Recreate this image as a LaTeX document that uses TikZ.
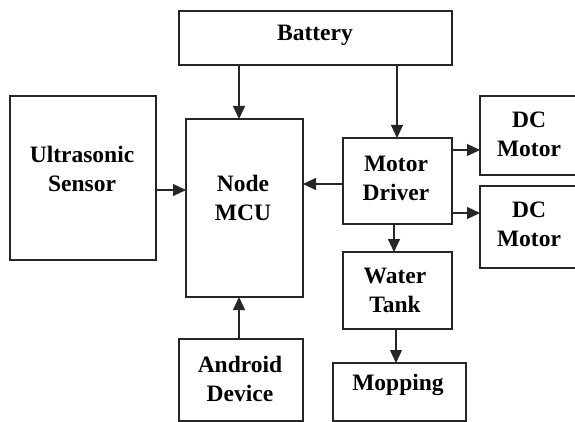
\documentclass[tikz,border=0pt]{standalone}
\usepackage{fontspec}
\setmainfont{Liberation Serif}
\usetikzlibrary{arrows.meta}
\begin{document}
\begin{tikzpicture}[x=1pt,y=-1pt,
  box/.style={draw=black!85,line width=1.2pt,rectangle,inner sep=0pt,outer sep=0pt},
  lbl/.style={align=center,inner sep=0pt,font=\fontsize{23.5}{29}\selectfont\bfseries},
  arr/.style={draw=black!85,line width=1.2pt,-{Triangle[length=13pt,width=12pt]}}]
\clip (0,0) rectangle (575,422);
\fill[white] (0,0) rectangle (575,422);
% boxes
\node[box,minimum width=273pt,minimum height=54pt] (bat) at (315.5,38) {};
\node[box,minimum width=146pt,minimum height=164pt] (us) at (83,178) {};
\node[box,minimum width=117pt,minimum height=178pt] (mcu) at (244.5,208) {};
\node[box,minimum width=109pt,minimum height=86pt] (md) at (397.5,181) {};
\node[box,minimum width=110pt,minimum height=79pt] (dc1) at (535,135.5) {};
\node[box,minimum width=110pt,minimum height=82pt] (dc2) at (535,227) {};
\node[box,minimum width=109pt,minimum height=77pt] (wt) at (397.5,290.5) {};
\node[box,minimum width=124pt,minimum height=82pt] (and) at (241,380) {};
\node[box,minimum width=133pt,minimum height=58pt] (mop) at (399.5,392) {};
% labels
\node[lbl] (tbat) at (315,35) {Battery};
\node[lbl] (tus) at (82,169) {Ultrasonic\\Sensor};
\node[lbl] (tmcu) at (243,198) {Node\\MCU};
\node[lbl] (tmd) at (396,178) {Motor\\Driver};
\node[lbl] (tdc1) at (529,134) {DC\\Motor};
\node[lbl] (tdc2) at (529,224) {DC\\Motor};
\node[lbl] (twt) at (395,290) {Water\\Tank};
\node[lbl] (tand) at (240,379) {Android\\Device};
\node[lbl] (tmop) at (398,385) {Mopping};
% guide coordinates
\coordinate (xa) at (239,0);
\coordinate (xb) at (397,0);
\coordinate (xc) at (394,0);
\coordinate (xd) at (396,0);
\coordinate (ya) at (0,190);
\coordinate (yb) at (0,184);
\coordinate (yc) at (0,150);
\coordinate (yd) at (0,213);
% connectors
\draw[arr] (bat.south -| xa) -- (mcu.north -| xa);
\draw[arr] (bat.south -| xb) -- (md.north -| xb);
\draw[arr] (us.east |- ya) -- (mcu.west |- ya);
\draw[arr] (md.west |- yb) -- (mcu.east |- yb);
\draw[arr] (md.east |- yc) -- (dc1.west |- yc);
\draw[arr] (md.east |- yd) -- (dc2.west |- yd);
\draw[arr] (md.south -| xc) -- (wt.north -| xc);
\draw[arr] (wt.south -| xd) -- (mop.north -| xd);
\draw[arr] (and.north -| xa) -- (mcu.south -| xa);
\end{tikzpicture}
\end{document}
